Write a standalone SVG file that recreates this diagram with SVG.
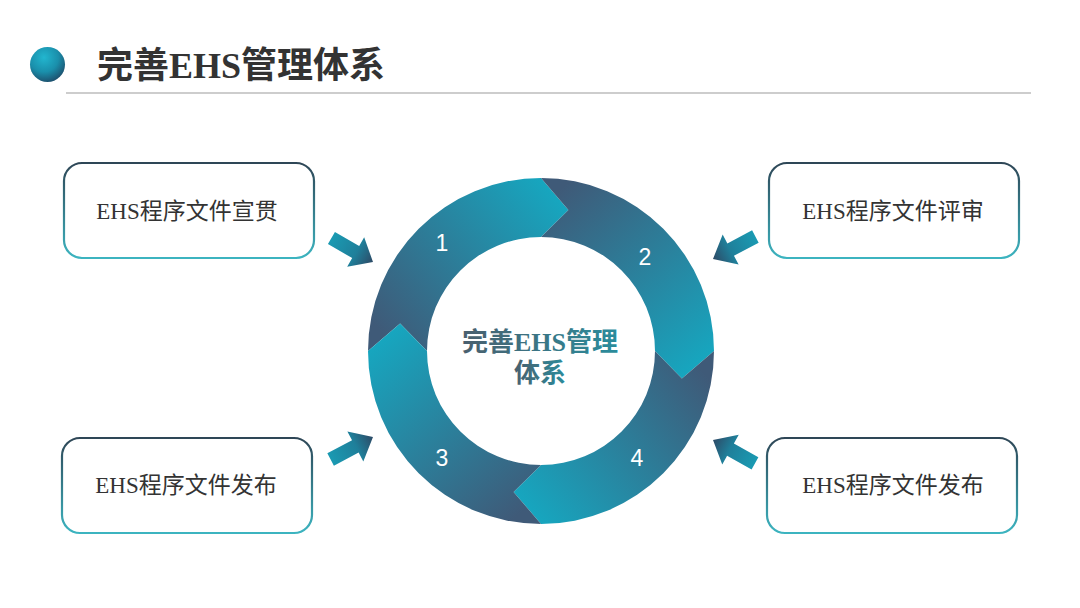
<svg xmlns="http://www.w3.org/2000/svg" width="1080" height="608" viewBox="0 0 1080 608">
<defs>
<style>
.box{fill:#ffffff;stroke:url(#boxStroke);stroke-width:2.2}
.boxText{font-family:"Liberation Serif","Noto Sans CJK SC",serif;font-size:23px;fill:#333333;text-anchor:middle}
.num{font-family:"Liberation Sans","Noto Sans",sans-serif;font-size:23px;fill:#ffffff;text-anchor:middle}
.arrow{fill:url(#arrowGrad)}
.ctext{font-family:"Liberation Serif","Noto Sans CJK SC",serif;font-size:26px;font-weight:bold;fill:url(#centerText);text-anchor:middle}
</style>
<linearGradient id="boxStroke" x1="0" y1="0" x2="0" y2="1">
<stop offset="0" stop-color="#2e4656"/>
<stop offset="1" stop-color="#3cb4c0"/>
</linearGradient>
<linearGradient id="arrowGrad" x1="0" y1="0" x2="1" y2="0">
<stop offset="0" stop-color="#1a9ab2"/>
<stop offset="0.6" stop-color="#1f7f9a"/>
<stop offset="1" stop-color="#2d4a66"/>
</linearGradient>
<radialGradient id="bullet" cx="0.4" cy="0.3" r="0.75">
<stop offset="0" stop-color="#22b6cf"/>
<stop offset="0.55" stop-color="#1a8fab"/>
<stop offset="1" stop-color="#1d4a68"/>
</radialGradient>
<linearGradient id="g1" gradientUnits="userSpaceOnUse" x1="397" y1="351" x2="568" y2="205">
<stop offset="0" stop-color="#3f5a78"/>
<stop offset="1" stop-color="#16a7c0"/>
</linearGradient>
<linearGradient id="g2" gradientUnits="userSpaceOnUse" x1="541" y1="205" x2="686" y2="380">
<stop offset="0" stop-color="#3f5a78"/>
<stop offset="1" stop-color="#16a7c0"/>
</linearGradient>
<linearGradient id="g4" gradientUnits="userSpaceOnUse" x1="686" y1="351" x2="513" y2="496">
<stop offset="0" stop-color="#3f5a78"/>
<stop offset="1" stop-color="#16a7c0"/>
</linearGradient>
<linearGradient id="g3" gradientUnits="userSpaceOnUse" x1="541" y1="496" x2="396" y2="323">
<stop offset="0" stop-color="#3f5a78"/>
<stop offset="1" stop-color="#16a7c0"/>
</linearGradient>
<linearGradient id="centerText" x1="0" y1="0" x2="1" y2="0">
<stop offset="0" stop-color="#4a5f6e"/>
<stop offset="1" stop-color="#2a8c9c"/>
</linearGradient>
</defs>

<rect x="0" y="0" width="1080" height="608" fill="#ffffff"/>

<g id="title">
<circle cx="47.5" cy="64.5" r="17.5" fill="url(#bullet)"/>
<text x="97" y="78" font-family="Liberation Serif,'Noto Sans CJK SC',serif" font-size="36" font-weight="bold" fill="#333333">完善EHS管理体系</text>
<line x1="66" y1="93" x2="1031" y2="93" stroke="#bdbdbd" stroke-width="1.5"/>
</g>

<g id="ring">
<g id="seg1">
<path d="M368,351 A173,173 0 0 1 541,178 L568.4,210.1 L541,237 A114,114 0 0 0 427,351 L400.1,323.6 Z" fill="url(#g1)"/>
<text class="num" x="442" y="251">1</text>
</g>
<g id="seg2">
<path d="M541,178 A173,173 0 0 1 714,351 L681.9,378.4 L655,351 A114,114 0 0 0 541,237 L568.4,210.1 Z" fill="url(#g2)"/>
<text class="num" x="645" y="265">2</text>
</g>
<g id="seg4">
<path d="M714,351 A173,173 0 0 1 541,524 L513.6,491.9 L541,465 A114,114 0 0 0 655,351 L681.9,378.4 Z" fill="url(#g4)"/>
<text class="num" x="637" y="466">4</text>
</g>
<g id="seg3">
<path d="M541,524 A173,173 0 0 1 368,351 L400.1,323.6 L427,351 A114,114 0 0 0 541,465 L513.6,491.9 Z" fill="url(#g3)"/>
<text class="num" x="442" y="466">3</text>
</g>
<g id="center">
<text class="ctext" x="540" y="351">完善EHS管理</text>
<text class="ctext" x="540" y="382">体系</text>
</g>
</g>

<g id="box1">
<rect class="box" x="64" y="163" width="250" height="95" rx="18"/>
<text class="boxText" x="187" y="219">EHS程序文件宣贯</text>
</g>
<g id="box2">
<rect class="box" x="769" y="163" width="250" height="95" rx="18"/>
<text class="boxText" x="893" y="219">EHS程序文件评审</text>
</g>
<g id="box3">
<rect class="box" x="62" y="438" width="250" height="95" rx="18"/>
<text class="boxText" x="186" y="493">EHS程序文件发布</text>
</g>
<g id="box4">
<rect class="box" x="767" y="438" width="250" height="95" rx="18"/>
<text class="boxText" x="893" y="493">EHS程序文件发布</text>
</g>

<g id="connectors">
<path class="arrow" transform="translate(373,262) rotate(30) translate(-48,0)" d="M0,-7 L28,-7 L28,-17 L48,0 L28,17 L28,7 L0,7 Z"/>
<path class="arrow" transform="translate(713,259) rotate(152) translate(-48,0)" d="M0,-7 L28,-7 L28,-17 L48,0 L28,17 L28,7 L0,7 Z"/>
<path class="arrow" transform="translate(373,437) rotate(-28) translate(-48,0)" d="M0,-7 L28,-7 L28,-17 L48,0 L28,17 L28,7 L0,7 Z"/>
<path class="arrow" transform="translate(713,440) rotate(209) translate(-48,0)" d="M0,-7 L28,-7 L28,-17 L48,0 L28,17 L28,7 L0,7 Z"/>
</g>
</svg>
